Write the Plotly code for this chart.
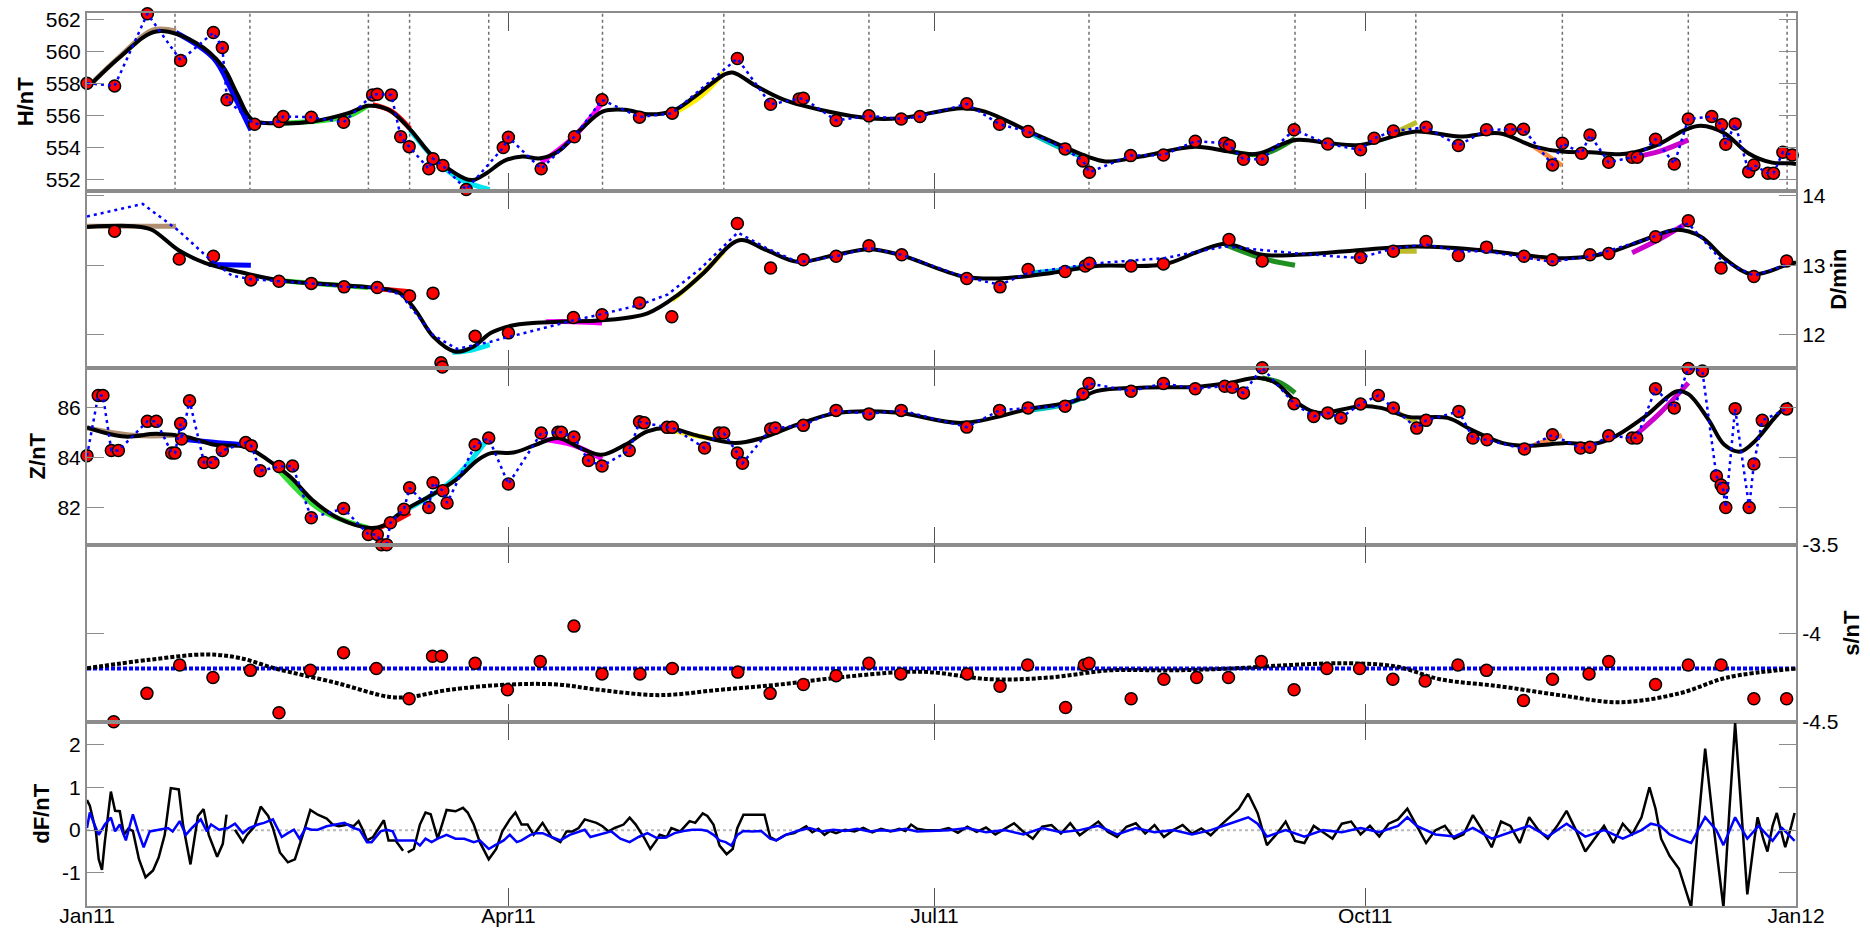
import pandas as pd
import plotly.graph_objects as go

START = pd.Timestamp("2011-01-01")
END = pd.Timestamp("2012-01-01")
FONT = "Liberation Sans, Arial, Helvetica, sans-serif"

# ---------------- horizontal component H ----------------
h_obs_days = [0, 5.9, 12.9, 12.9, 20, 27, 28.9, 29.9, 35.8, 41, 41.9, 47.9, 54.8, 61, 62, 65, 67, 68.8,
              73, 73.9, 76, 81, 88.9, 90, 97, 104.1, 110, 118, 125, 138.9, 146, 152.1, 153, 160, 167,
              173.9, 177.9, 187.9, 194.9, 201, 208.9, 212.7, 214.1, 222.9, 229.9, 236.7, 243, 244, 247,
              251, 257.8, 265, 272, 274.9, 279, 286, 292.9, 298.9, 304, 306.8, 313, 315.1, 319.2, 321,
              325, 330, 331.1, 335, 339, 342, 347, 349.1, 350, 352, 354.9, 356, 359, 360.2, 362.2, 364.2]
h_obs_vals = [558.04, 557.87, 562.37, 551.3, 559.46, 561.2, 560.27, 557.0, 555.48, 555.65, 555.96, 555.92,
              555.6, 557.31, 557.35, 557.31, 554.7, 554.08, 552.7, 553.33, 552.9, 551.4, 554.02, 554.67,
              552.7, 554.7, 557.0, 555.92, 556.17, 559.58, 556.73, 557.06, 557.1, 555.71, 556.0, 555.81,
              555.96, 556.75, 555.48, 555.02, 553.94, 553.19, 552.48, 553.52, 553.56, 554.42, 554.29,
              554.15, 553.29, 553.29, 555.13, 554.25, 553.88, 554.6, 555.06, 555.29, 554.15, 555.13,
              555.13, 555.17, 552.94, 554.29, 553.67, 554.81, 553.1, 553.42, 553.42, 554.54, 553.0,
              555.81, 555.96, 555.44, 554.23, 555.5, 552.52, 552.94, 552.42, 552.42, 553.73, 553.56]
h_ref_skip = [3]  # outlier not joined by the dotted reference line

h_fit_days = [0, 7.2, 14.8, 23.4, 29, 32, 35.3, 40.5, 48.2, 55.8, 60.1, 64.4, 69.1, 73.9, 80.6, 82.5,
              85.3, 89.2, 93, 96.8, 100.6, 105.4, 110.1, 114.9, 119.7, 125, 129.8, 136, 137.9, 143.1,
              148.9, 158.3, 167, 173.6, 187, 191.8, 201.3, 213.7, 217.5, 225.1, 236.6, 244.1, 249.9,
              258, 265.4, 272, 283.8, 293.1, 301.6, 309.2, 315.1, 321, 328.6, 335.4, 341.3, 344.7,
              349.7, 354.8, 359.9, 363.6, 365]
h_fit_vals = [557.73, 559.71, 561.27, 560.54, 559.08, 557.42, 555.75, 555.54, 555.65, 556.17, 556.63,
              556.38, 555.13, 553.46, 552.1, 552.0, 552.42, 553.21, 553.46, 553.35, 553.77, 555.13,
              556.27, 556.38, 556.1, 556.3, 557.2, 558.56, 558.71, 557.83, 557.0, 556.27, 555.85,
              555.85, 556.48, 556.27, 555.02, 553.46, 553.15, 553.46, 554.08, 553.77, 553.63, 554.5,
              554.29, 554.19, 555.02, 554.71, 554.92, 554.08, 553.77, 553.73, 553.63, 554.19, 555.13,
              555.38, 554.92, 553.67, 553.08, 553.04, 553.0]

# baseline epochs (segment boundaries) marked in the H panel
break_days = [18.8, 34.8, 60.1, 68.9, 85.8, 110.1, 136, 167, 214, 258, 283.8, 315.1, 342, 363.1]

seg_colors = ["#b09070", "#0000ff", "#33dd33", "#ff0000", "#00e5ee", "#ff00ff",
              "#ffee00", "#00c0c0", "#1f8f1f", "#bcbc2a", "#ff8c40", "#cc00cc"]

h_seg_days = [[0, 7, 14, 19], [19, 27, 31, 35], [41, 50, 56, 60], [61, 65, 69], [69, 75, 80, 86],
              [97, 104, 110], [125, 131, 136], [201, 208, 214], [244, 251, 258], [279, 284],
              [309, 315], [330, 336, 342]]
h_seg_vals = [[557.75, 559.7, 561.35, 561.3], [561.2, 559.6, 557.5, 555.1], [555.55, 555.7, 556.0, 556.65],
              [556.7, 556.3, 555.2], [555.1, 553.1, 552.0, 551.4], [553.1, 554.7, 556.8],
              [556.1, 557.2, 558.7], [555.0, 554.0, 553.3], [553.8, 553.6, 554.6], [554.9, 555.6],
              [554.1, 552.9], [553.4, 553.8, 554.5]]

# ---------------- declination D ----------------
d_obs_days = [5.9, 19.7, 27, 35, 41, 47.9, 54.9, 62, 68.9, 73.9, 75.6, 75.9, 82.9, 90, 103.9, 110, 118,
              124.9, 138.9, 146, 153, 160, 167, 174, 187.9, 195, 201, 208.9, 213.2, 214.1, 223, 229.9,
              243.9, 251, 272, 279, 286, 292.9, 298.9, 306.9, 313, 321, 325, 335, 342, 349, 356, 363]
d_obs_vals = [13.49, 13.09, 13.13, 12.79, 12.77, 12.74, 12.69, 12.68, 12.56, 12.60, 11.6, 11.54, 11.98,
              12.03, 12.25, 12.29, 12.46, 12.26, 13.6, 12.96, 13.08, 13.13, 13.28, 13.15, 12.81, 12.69,
              12.94, 12.91, 12.99, 13.03, 12.99, 13.02, 13.37, 13.06, 13.11, 13.2, 13.34, 13.14, 13.26,
              13.13, 13.08, 13.15, 13.17, 13.41, 13.64, 12.96, 12.84, 13.06]

d_ref_days = [0, 11.9, 19.5, 26, 31, 35, 41, 48, 55, 62, 67, 73.9, 79, 86, 90, 104, 110, 118, 124,
              131, 133, 139, 145, 152, 160, 167, 174, 187, 195, 201, 215.6, 229.9, 243, 251, 258.5, 270,
              272, 279, 286, 293, 299, 307, 313, 321, 333, 342, 349, 356, 363.6]
d_ref_vals = [13.7, 13.88, 13.5, 13.1, 12.85, 12.8, 12.77, 12.74, 12.69, 12.68, 12.58, 12.0, 11.8, 11.9,
              11.97, 12.21, 12.3, 12.43, 12.58, 12.95, 13.08, 13.47, 13.25, 13.04, 13.13, 13.25, 13.15,
              12.84, 12.72, 12.89, 13.03, 13.1, 13.27, 13.22, 13.17, 13.11, 13.11, 13.24, 13.3, 13.2,
              13.2, 13.11, 13.05, 13.13, 13.37, 13.6, 13.08, 12.85, 13.02]

d_fit_days = [0, 10, 13.8, 19.5, 25.3, 32.9, 40.5, 53, 62.5, 66.8, 70.1, 73.9, 78.7, 82.5, 86.3, 91.1,
              100.6, 110.1, 119.7, 126.3, 131.7, 139.3, 145, 151.7, 159.3, 167, 173.6, 187, 194.7, 206,
              215.6, 229.9, 237.5, 243.3, 251, 258.5, 268.9, 283.8, 299, 307.5, 315.9, 324.4, 332.8,
              339.6, 344.7, 349.7, 355.6, 363.6, 365]
d_fit_vals = [13.55, 13.56, 13.51, 13.22, 13.03, 12.9, 12.79, 12.72, 12.67, 12.6, 12.36, 11.98, 11.76,
              11.83, 12.03, 12.14, 12.19, 12.21, 12.31, 12.58, 12.89, 13.36, 13.22, 13.05, 13.14, 13.23,
              13.15, 12.84, 12.81, 12.89, 12.99, 13.01, 13.2, 13.31, 13.15, 13.15, 13.2, 13.27, 13.21,
              13.14, 13.1, 13.17, 13.37, 13.51, 13.41, 13.1, 12.87, 13.02, 13.04]

d_seg_days = [[0, 19], [26, 35], [41, 50, 60], [61, 69], [78, 82, 86], [98, 104, 110], [125, 131, 136],
              [201, 208, 214], [243, 251, 258], [279, 284], [309, 315], [330, 336, 342]]
d_seg_vals = [[13.56, 13.56], [13.01, 13.0], [12.78, 12.73, 12.68], [12.67, 12.62], [11.75, 11.78, 11.86],
              [12.19, 12.19, 12.17], [12.5, 12.85, 13.2], [12.89, 12.93, 12.99], [13.3, 13.1, 13.0],
              [13.2, 13.2], [13.12, 13.08], [13.18, 13.38, 13.62]]

# ---------------- vertical component Z ----------------
z_obs_days = [0, 2.4, 3.4, 5.2, 6.7, 12.9, 14.8, 18.1, 18.8, 20, 20.2, 21.9, 25, 26.9, 28.9, 33.9, 35.1,
              37, 41, 43.9, 47.9, 54.8, 60.1, 62, 62.9, 64, 64.8, 67.7, 68.9, 73, 73.9, 76, 76.9, 82.9,
              85.8, 90, 97, 100.6, 101.3, 104, 107.1, 110, 115.8, 118, 119, 123.9, 125, 131.9, 135, 136,
              138.9, 140, 146, 147, 153, 160, 167, 173.9, 187.9, 194.9, 201, 208.9, 212.7, 214, 223,
              229.9, 236.7, 243, 244.6, 247, 251, 257.8, 262, 265, 267.8, 272, 275.8, 279, 284, 286, 293,
              296, 299, 307, 313, 319, 321, 325, 330, 331, 335, 339, 342, 345, 348, 349, 349.4, 350, 352,
              355, 356, 357.8, 363]
z_obs_vals = [84.08, 86.5, 86.5, 84.29, 84.29, 85.46, 85.46, 84.19, 84.19, 85.37, 84.75, 86.29, 83.81,
              83.81, 84.29, 84.61, 84.48, 83.48, 83.65, 83.67, 81.6, 81.97, 80.93, 80.93, 80.52, 80.52,
              81.4, 81.94, 82.8, 82.01, 83.0, 82.68, 82.19, 84.52, 84.79, 82.95, 84.99, 85.02, 85.02,
              84.83, 83.89, 83.67, 84.29, 85.44, 85.4, 85.22, 85.22, 84.39, 84.99, 84.99, 84.19, 83.78,
              85.15, 85.19, 85.3, 85.9, 85.76, 85.9, 85.23, 85.9, 86.0, 86.07, 86.56, 86.98, 86.67,
              86.98, 86.77, 86.87, 86.83, 86.6, 87.61, 86.17, 85.66, 85.8, 85.6, 86.16, 86.5, 86.0,
              85.19, 85.5, 85.86, 84.79, 84.72, 84.35, 84.92, 84.39, 84.42, 84.88, 84.79, 84.79, 86.77,
              86.0, 87.58, 87.48, 83.27, 82.91, 82.77, 82.01, 85.97, 82.01, 83.75, 85.5, 85.96]

z_fit_days = [0, 8.1, 14.8, 21.5, 27.2, 33.9, 38.6, 43.4, 48.2, 53.9, 60.6, 63.4, 67.2, 73, 78.7, 83.5,
              86.3, 91.1, 95.8, 100.6, 105.4, 109.8, 114.9, 119.7, 124.4, 130.2, 138.4, 144.1, 151.7,
              160.3, 172.7, 187, 201.3, 210.8, 215.6, 225.1, 237.5, 244.2, 249.9, 253.8, 258.5, 262,
              264.3, 272, 276.3, 282.2, 290.6, 295.7, 302.4, 307.5, 315.9, 321.8, 326.1, 332.8, 339.6,
              342.1, 346.3, 349.7, 353.1, 356.5, 360.7, 363.6]
z_fit_vals = [85.22, 84.85, 84.96, 84.83, 84.52, 84.43, 83.92, 83.24, 82.3, 81.56, 81.19, 81.29, 81.83,
              82.44, 83.11, 83.92, 84.19, 84.21, 84.52, 84.79, 84.39, 84.12, 84.52, 85.06, 85.19, 84.9,
              84.59, 84.79, 85.33, 85.8, 85.82, 85.4, 85.96, 86.27, 86.67, 86.81, 86.85, 87.01, 87.21,
              87.01, 86.2, 85.84, 85.8, 86.07, 86.0, 85.64, 85.6, 85.12, 84.59, 84.48, 84.59, 84.56,
              84.83, 85.66, 86.67, 86.54, 85.53, 84.52, 84.25, 84.72, 85.66, 86.2]

z_seg_days = [[0, 10, 19], [20, 28, 35], [41, 50, 60], [61, 65, 69], [69, 78, 86], [97, 104, 110],
              [125, 131, 136], [201, 208, 214], [251, 255, 258], [279, 284], [309, 315], [330, 336, 342]]
z_seg_vals = [[85.2, 84.9, 84.9], [84.75, 84.6, 84.5], [83.5, 81.9, 81.2], [81.1, 81.4, 81.8],
              [82.0, 83.1, 84.85], [84.75, 84.5, 83.95], [85.1, 84.85, 84.7], [85.9, 86.1, 86.5],
              [87.2, 87.0, 86.6], [85.9, 85.4], [84.5, 84.9], [84.8, 85.8, 87.0]]

# ---------------- scale value s ----------------
s_obs_days = [5.7, 12.8, 19.8, 26.9, 34.9, 41, 47.7, 54.8, 61.8, 68.8, 73.8, 75.7, 82.9, 89.8, 96.8, 104,
              110, 118.1, 125, 139, 145.9, 153, 160, 167, 173.8, 188, 195, 200.9, 209, 213, 214, 223,
              230, 237, 243.8, 250.8, 257.8, 264.8, 271.8, 278.9, 285.8, 292.8, 298.9, 306.8, 313,
              320.8, 325, 335, 342, 349, 356, 363]
s_obs_vals = [-4.5, -4.34, -4.18, -4.25, -4.21, -4.45, -4.21, -4.11, -4.2, -4.37, -4.13, -4.13, -4.17,
              -4.32, -4.16, -3.96, -4.23, -4.23, -4.2, -4.22, -4.34, -4.29, -4.24, -4.17, -4.23, -4.23,
              -4.3, -4.18, -4.42, -4.18, -4.17, -4.37, -4.26, -4.25, -4.25, -4.16, -4.32, -4.2, -4.2,
              -4.26, -4.27, -4.18, -4.21, -4.38, -4.26, -4.23, -4.16, -4.29, -4.18, -4.18, -4.37, -4.37]
s_mean_days = [0, 365]
s_mean_vals = [-4.2, -4.2]
s_fit_days = [0, 13.4, 25.6, 32.6, 40.3, 53.1, 64.6, 68.9, 77.4, 90.2, 100.4, 109.4, 122.2, 135.1, 147.9,
              160.7, 173.5, 180, 192.9, 205.7, 218.5, 231.3, 244.1, 256.9, 269.7, 279.9, 288.9, 301.7,
              314.5, 327.3, 340.1, 350.4, 365]
s_fit_vals = [-4.198, -4.15, -4.12, -4.14, -4.2, -4.28, -4.36, -4.36, -4.32, -4.29, -4.29, -4.32, -4.35,
              -4.32, -4.29, -4.25, -4.22, -4.22, -4.26, -4.25, -4.21, -4.21, -4.2, -4.18, -4.17, -4.19,
              -4.26, -4.3, -4.35, -4.39, -4.34, -4.25, -4.2]

# ---------------- total field difference dF ----------------
df_days = [0.0, 0.6, 1.9, 2.5, 3.2, 3.8, 5.1, 6.0, 7.0, 7.9, 8.8, 9.8, 11.1, 12.5, 14.1, 15.3, 16.6, 17.9,
           19.6, 20.5, 22.1, 23.7, 24.9, 26.0, 27.8, 29.0, 29.8, 30.6, 31.6, 33.3, 34.2, 35.8, 37.1, 38.7,
           39.7, 41.2, 42.9, 44.4, 46.1, 47.7, 49.3, 51.2, 52.5, 53.8, 55.7, 56.9, 58.0, 58.9, 59.8,
           61.1, 63.4, 64.4, 65.9, 67.5, 68.0, 68.5, 69.8, 71.1, 72.3, 73.4, 74.9, 76.8, 78.7, 80.3,
           81.3, 82.6, 83.9, 85.8, 87.4, 88.7, 90.3, 91.5, 92.8, 94.1, 95.4, 97.3, 99.2, 101.1, 102.4,
           103.7, 105.0, 106.3, 107.5, 108.8, 110.1, 111.4, 112.7, 114.6, 115.9, 117.2, 119.1, 120.3,
           121.6, 122.3, 123.8, 124.8, 126.7, 128.7, 129.9, 131.5, 132.5, 133.8, 135.1, 136.6, 137.9,
           138.9, 140.2, 142.8, 144.7, 145.9, 147.2, 149.2, 151.1, 152.3, 153.6, 154.9, 156.2, 157.5,
           158.7, 160.0, 161.9, 163.9, 165.8, 167.7, 169.6, 171.6, 173.5, 174.8, 176.0, 177.3, 179.2,
           182.2, 184, 186, 188, 190, 192, 194, 196, 198, 200, 202, 204, 206, 208, 210, 212, 214, 216,
           218, 220, 222, 224, 226, 228, 230, 232, 234, 236, 238, 240, 242, 244, 246, 248, 250, 252,
           254, 256, 258, 260, 262, 264, 266, 268, 270, 272, 274, 276, 278, 280, 282, 284, 286, 288,
           290, 292, 294, 296, 298, 300, 302, 304, 306, 308, 310, 312, 314, 316, 318, 320, 322, 324,
           326, 328, 330, 332, 333.7, 335, 336.2, 338, 340, 342.6, 344, 345.6, 347.5, 349.5, 350.8,
           352, 353.3, 354.6, 356, 356.8, 358, 358.9, 360, 360.9, 362, 362.7, 364, 364.7]
df_vals = [0.70, 0.57, -0.03, -0.68, -0.93, -0.28, 0.90, 0.45, 0.44, -0.11, 0.03, -0.02, -0.68, -1.10,
           -0.94, -0.64, -0.11, 0.98, 0.95, 0.13, -0.80, 0.33, 0.49, -0.11, -0.62, -0.32, 0.36, None,
           0.01, -0.28, -0.11, 0.09, 0.55, 0.33, 0.05, -0.52, -0.75, -0.68, -0.11, 0.47, 0.36, 0.27,
           0.13, 0.09, 0.13, 0.09, 0.21, 0.01, -0.24, -0.16, 0.23, -0.24, -0.24, -0.48, None, -0.52,
           -0.44, 0.13, 0.41, 0.37, -0.20, 0.47, 0.44, 0.52, 0.41, 0.13, -0.28, -0.68, -0.44, -0.03,
           0.25, 0.41, 0.13, 0.13, -0.11, 0.17, -0.16, -0.28, -0.03, -0.03, 0.05, 0.25, 0.21, 0.17,
           0.09, -0.03, 0.05, 0.13, 0.29, 0.13, -0.20, -0.44, -0.24, -0.11, -0.16, 0.05, -0.03, 0.21,
           0.17, 0.39, 0.33, 0.13, -0.36, -0.56, -0.44, 0.05, 0.36, 0.36, 0.36, -0.16, -0.24, -0.11,
           -0.07, 0.01, 0.09, -0.05, 0.03, -0.11, -0.02, -0.07, 0.01, -0.03, 0.05, -0.05, 0.03, -0.03,
           0.03, -0.02, 0.13, 0.03, 0.0, 0.0, 0.05, -0.06, 0.08, -0.04, 0.06, -0.1, 0.04, 0.16, -0.04,
           -0.2, 0.08, 0.12, -0.08, 0.16, -0.12, 0.04, 0.2, -0.04, -0.16, 0.08, 0.16, -0.08, 0.12, -0.16,
           0.0, 0.12, -0.08, 0.04, -0.12, 0.1, 0.3, 0.5, 0.85, 0.4, -0.35, -0.1, 0.2, -0.25, -0.3, 0.1,
           -0.05, -0.2, 0.15, 0.2, -0.1, 0.1, -0.15, 0.15, 0.25, 0.5, 0.1, -0.3, 0.0, 0.1, -0.2, -0.1,
           0.35, 0.0, -0.4, 0.2, 0.1, -0.3, 0.3, 0.0, -0.2, 0.1, 0.45, 0.0, -0.5, -0.2, 0.1, -0.3,
           0.15, -0.1, 0.3, 1.0, 0.5, -0.2, -0.6, -0.9, -1.8, 0.0, 1.9, 0.0, -1.8, 0.5, 2.5, 0.5, -1.5,
           -0.3, 0.3, -0.2, -0.5, 0.1, 0.4, -0.1, -0.4, 0.1, 0.4]

dfr_days = [0.0, 0.6, 1.6, 2.5, 3.8, 5.1, 6.0, 7.0, 8.3, 9.8, 10.9, 12.1, 13.4, 15.3, 17.3, 18.3, 19.8,
            21.1, 22.4, 24.3, 25.6, 26.5, 28.2, 30.1, 31.6, 33.3, 34.6, 36.5, 37.8, 39.7, 41.6, 42.9,
            44.2, 45.4, 46.7, 48.0, 49.3, 51.2, 53.1, 55.0, 56.9, 58.2, 59.8, 60.8, 62.7, 64.0, 65.3,
            66.2, 67.9, 69.8, 71.1, 72.3, 73.6, 74.9, 76.8, 78.7, 80.6, 82.6, 83.9, 85.8, 87.0, 89.0,
            90.3, 91.8, 92.8, 94.7, 96.0, 97.3, 99.2, 101.1, 103.1, 105.0, 106.3, 107.5, 109.5, 110.7,
            112.0, 113.9, 115.9, 117.8, 119.7, 121.6, 123.5, 125.5, 127.4, 129.3, 131.2, 132.5, 133.8,
            135.1, 136.4, 137.6, 138.9, 140.2, 142.1, 144.0, 145.9, 147.2, 149.2, 151.7, 154.3, 156.8,
            159.4, 161.9, 164.5, 167.1, 169.6, 172.2, 174.8, 177.3, 182.2, 184, 188, 192, 196, 200, 204,
            208, 212, 216, 220, 224, 228, 232, 236, 240, 244, 248, 250, 252, 256, 260, 264, 268, 272,
            276, 280, 282, 284, 288, 292, 296, 300, 304, 308, 312, 316, 320, 324, 328, 332, 334, 336,
            338, 340, 342.6, 345.6, 348, 349.5, 352, 354.6, 357, 360, 362, 364.7]
dfr_vals = [0.05, 0.41, 0.13, -0.11, 0.13, 0.29, -0.03, 0.13, -0.24, 0.37, -0.03, -0.40, -0.03, 0.01,
            0.05, -0.03, 0.21, -0.11, 0.05, 0.25, -0.03, 0.13, 0.01, 0.05, 0.15, -0.07, 0.05, 0.13, 0.17,
            0.25, -0.16, -0.07, 0.01, -0.20, 0.05, 0.01, 0.01, 0.09, 0.13, 0.17, 0.05, 0.01, -0.28,
            -0.28, -0.03, 0.01, -0.03, -0.24, -0.24, -0.24, -0.36, -0.20, -0.28, -0.20, -0.11, -0.20,
            -0.20, -0.28, -0.24, -0.44, -0.36, -0.24, -0.11, -0.28, -0.24, -0.11, -0.07, -0.07, -0.16,
            -0.24, -0.11, -0.03, 0.01, -0.16, -0.11, -0.07, -0.03, -0.20, -0.28, -0.16, -0.07, -0.18,
            -0.18, -0.07, -0.02, 0.01, 0.01, -0.02, -0.11, -0.24, -0.28, -0.36, -0.11, -0.02, -0.03,
            -0.02, -0.20, -0.24, -0.11, -0.02, 0.05, -0.03, 0.01, -0.02, 0.03, -0.03, 0.0, -0.02, 0.03,
            -0.03, 0.0, 0.0, 0.05, -0.05, 0.0, -0.1, 0.05, -0.05, 0.0, 0.1, -0.1, 0.05, -0.05, 0.0, -0.1,
            0.0, 0.15, 0.3, 0.15, -0.15, 0.0, -0.15, 0.0, -0.05, 0.05, -0.05, 0.1, 0.3, 0.1, -0.1,
            -0.15, 0.05, -0.2, -0.05, 0.1, -0.15, 0.15, -0.15, 0.0, -0.2, 0.0, 0.15, 0.1, -0.1, -0.2,
            -0.3, 0.3, 0.0, -0.35, 0.3, -0.2, 0.1, -0.25, 0.05, -0.25]


def to_dates(days):
    return [START + pd.Timedelta(days=d) for d in days]


fig = go.Figure()

panel_domains = [[0.801, 1.0], [0.6028, 0.801], [0.4046, 0.6028], [0.2064, 0.4046], [0.0, 0.2064]]
panel_ranges = [[551.33, 562.42], [11.53, 14.07], [80.52, 87.61], [-4.5, -3.5], [-1.77, 2.53]]
panel_titles = ["H/nT", "D/min", "Z/nT", "s/nT", "dF/nT"]
panel_sides = ["left", "right", "left", "right", "left"]
panel_ticks = [[552, 554, 556, 558, 560, 562], [12, 13, 14], [82, 84, 86], [-4.5, -4, -3.5], [-1, 0, 1, 2]]
panel_ticktext = [["552", "554", "556", "558", "560", "562"], ["12", "13", "14"], ["82", "84", "86"],
                  ["-4.5", "-4", "-3.5"], ["-1", "0", "1", "2"]]
month_ticks = ["2011-01-01", "2011-04-01", "2011-07-01", "2011-10-01", "2012-01-01"]
month_text = ["Jan11", "Apr11", "Jul11", "Oct11", "Jan12"]

RED_MARK = dict(size=12, color="#ff0000", line=dict(color="black", width=1.5))
REF_DOT = dict(color="#0000ff", width=2.5, dash="3px,4px")


def add_component(k, obs_days, obs_vals, fit_days, fit_vals, seg_days, seg_vals, ref_days, ref_vals):
    xa, ya = ("x", "y") if k == 1 else (f"x{k}", f"y{k}")
    for c, sd, sv in zip(seg_colors, seg_days, seg_vals):
        fig.add_trace(go.Scatter(x=to_dates(sd), y=sv, mode="lines", xaxis=xa, yaxis=ya,
                                 line=dict(color=c, width=5, shape="spline"), hoverinfo="skip"))
    fig.add_trace(go.Scatter(x=to_dates(fit_days), y=fit_vals, mode="lines", xaxis=xa, yaxis=ya,
                             line=dict(color="black", width=4, shape="spline", smoothing=1.0)))
    fig.add_trace(go.Scatter(x=to_dates(obs_days), y=obs_vals, mode="markers", xaxis=xa, yaxis=ya,
                             marker=RED_MARK, cliponaxis=False))
    fig.add_trace(go.Scatter(x=to_dates(ref_days), y=ref_vals, mode="lines", xaxis=xa, yaxis=ya,
                             line=REF_DOT))


h_ref_days = [d for i, d in enumerate(h_obs_days) if i not in h_ref_skip]
h_ref_vals = [v for i, v in enumerate(h_obs_vals) if i not in h_ref_skip]
add_component(1, h_obs_days, h_obs_vals, h_fit_days, h_fit_vals, h_seg_days, h_seg_vals, h_ref_days, h_ref_vals)
add_component(2, d_obs_days, d_obs_vals, d_fit_days, d_fit_vals, d_seg_days, d_seg_vals, d_ref_days, d_ref_vals)
add_component(3, z_obs_days, z_obs_vals, z_fit_days, z_fit_vals, z_seg_days, z_seg_vals, z_obs_days, z_obs_vals)

# scale value panel
fig.add_trace(go.Scatter(x=to_dates(s_mean_days), y=s_mean_vals, mode="lines", xaxis="x4", yaxis="y4",
                         line=dict(color="#0000ff", width=4, dash="4px,2px")))
fig.add_trace(go.Scatter(x=to_dates(s_fit_days), y=s_fit_vals, mode="lines", xaxis="x4", yaxis="y4",
                         line=dict(color="black", width=4, dash="4px,2px", shape="spline")))
fig.add_trace(go.Scatter(x=to_dates(s_obs_days), y=s_obs_vals, mode="markers", xaxis="x4", yaxis="y4",
                         marker=RED_MARK, cliponaxis=False))

# total field difference panel
fig.add_trace(go.Scatter(x=to_dates(df_days), y=df_vals, mode="lines", xaxis="x5", yaxis="y5",
                         line=dict(color="black", width=2.5), connectgaps=False))
fig.add_trace(go.Scatter(x=to_dates(dfr_days), y=dfr_vals, mode="lines", xaxis="x5", yaxis="y5",
                         line=dict(color="#0000ff", width=2.5)))

shapes = []
for d in break_days:
    t = START + pd.Timedelta(days=d)
    shapes.append(dict(type="line", xref="x", yref="y domain", x0=t, x1=t, y0=0, y1=1, layer="below",
                       line=dict(color="#707070", width=1.5, dash="dot")))
shapes.append(dict(type="line", xref="x5 domain", yref="y5", x0=0, x1=1, y0=0, y1=0, layer="below",
                   line=dict(color="#b8b8b8", width=2, dash="dot")))

layout = dict(
    width=1870, height=929,
    margin=dict(l=87, r=74, t=13, b=23, autoexpand=False),
    paper_bgcolor="white", plot_bgcolor="white",
    showlegend=False,
    font=dict(family=FONT, size=21, color="black"),
    shapes=shapes,
)

for k in range(1, 6):
    xname = "xaxis" if k == 1 else f"xaxis{k}"
    yname = "yaxis" if k == 1 else f"yaxis{k}"
    layout[xname] = dict(
        type="date", range=[START, END], anchor="y" if k == 1 else f"y{k}",
        showline=True, linecolor="#8c8c8c", linewidth=2, mirror="ticks",
        ticks="inside", ticklen=18, tickwidth=1, tickcolor="#555555",
        tickvals=month_ticks, ticktext=month_text, showticklabels=(k == 5),
        ticklabelstandoff=-10, automargin=False,
        showgrid=False, zeroline=False, fixedrange=True,
        tickfont=dict(family=FONT, size=21),
    )
    layout[yname] = dict(
        domain=panel_domains[k - 1], range=panel_ranges[k - 1], side=panel_sides[k - 1],
        anchor="x" if k == 1 else f"x{k}", automargin=False,
        showline=True, linecolor="#8c8c8c", linewidth=2, mirror="ticks",
        ticks="inside", ticklen=17, tickwidth=1, tickcolor="#8c8c8c",
        tickvals=panel_ticks[k - 1], ticktext=panel_ticktext[k - 1],
        showgrid=False, zeroline=False, fixedrange=True,
        tickfont=dict(family=FONT, size=21),
        title=dict(text=panel_titles[k - 1], standoff=6,
                   font=dict(family=FONT, size=22, weight="bold")),
    )

fig.update_layout(**layout)
fig.write_html("out.html")
